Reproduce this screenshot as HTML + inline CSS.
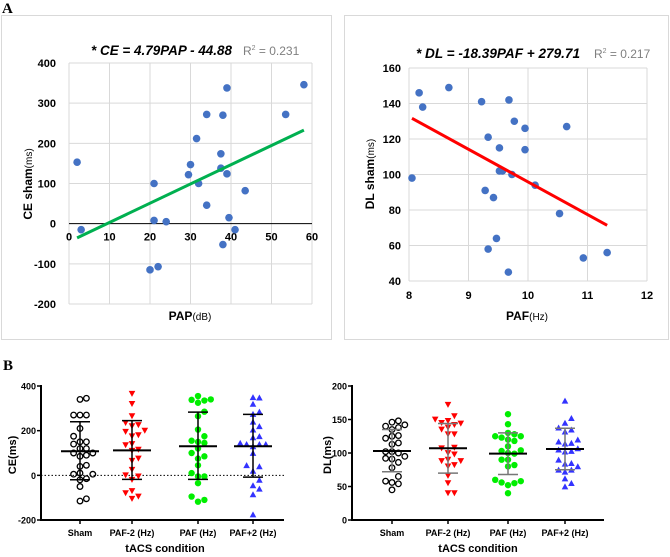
<!DOCTYPE html>
<html><head><meta charset="utf-8">
<style>
html,body{margin:0;padding:0;background:#fff;}
svg{display:block;font-family:"Liberation Sans",Arial,sans-serif;}
</style></head>
<body>
<svg id="fig" width="670" height="557" viewBox="0 0 670 557">
  <text x="2" y="13" font-family="Liberation Serif" font-weight="bold" font-size="15">A</text>
  <text x="3" y="370" font-family="Liberation Serif" font-weight="bold" font-size="15">B</text>
  <rect x="1.5" y="15.5" width="330" height="324" fill="none" stroke="#d9d9d9"/>
  <rect x="344.5" y="15.5" width="324" height="324" fill="none" stroke="#d9d9d9"/>
  <g id="a1"></g>
  <g id="a2"></g>
  <g id="b1"></g>
  <g id="b2"></g>
</svg>
<script>
// ---- data ----
const a1X = [2,3,20,21,21,22,24,29.5,30,31.5,32,34,34,37.5,37.5,38,38,39,39,39.5,41,43.5,53.5,58];
const a1Y = [153,-15,-115,8,100,-107,5,122,147,212,100,272,46,174,138,270,-52,124,338,15,-15,82,272,346];
const a1XTicks = [0,10,20,30,40,50,60];
const a1YTicks = [-200,-100,0,100,200,300,400];
const a1Fit = [4.79,-44.88];
const a2X = [8.05,8.17,8.23,8.67,9.22,9.28,9.33,9.33,9.42,9.47,9.52,9.52,9.57,9.68,9.67,9.73,9.77,9.95,9.95,10.12,10.53,10.65,10.93,11.33];
const a2Y = [98,146,138,149,141,91,121,58,87,64,115,102,102,142,45,100,130,126,114,94,78,127,53,56];
const a2XTicks = [8,9,10,11,12];
const a2YTicks = [40,60,80,100,120,140,160];
const a2Fit = [-18.39,279.71];
const categories = ["Sham","PAF-2 (Hz)","PAF (Hz)","PAF+2 (Hz)"];
const ceSham = [345,340,270,270,270,210,175,150,140,150,120,120,100,100,85,90,45,40,10,5,5,-15,-20,-50,-115,-105];
const cePafM2 = [365,320,265,235,225,220,200,195,175,180,140,135,110,115,75,65,25,0,-5,-20,-70,-80,-95,-105];
const cePaf = [355,340,338,335,325,285,265,205,175,155,150,145,120,100,85,75,45,10,-5,-5,-35,-95,-110,-118];
const cePafP2 = [350,348,320,285,275,240,220,205,175,170,145,140,140,140,130,100,45,40,20,-20,-45,-60,-85,-175];
const ceMean = [108,112,130,130];
const ceSdHi = [240,245,283,273];
const ceSdLo = [-20,-18,-18,-8];
const ceTicks = [-200,0,200,400];
const dlSham = [146,142,148,140,138,135,126,125,122,115,113,102,102,100,95,92,91,86,78,65,58,56,54,45];
const dlPafM2 = [172,155,150,148,145,144,142,138,135,128,128,108,107,100,98,90,88,88,82,80,66,55,40,40];
const dlPaf = [158,143,130,128,125,125,123,120,118,110,104,103,100,99,90,90,82,80,60,58,56,55,52,40];
const dlPafP2 = [178,152,145,138,135,132,120,117,115,114,107,105,103,102,90,85,84,80,75,75,72,62,55,50];
const dlMean = [103,107,99,106];
const dlSdHi = [135,144,130,137];
const dlSdLo = [72,70,68,75];
const dlTicks = [0,50,100,150,200];

const NS="http://www.w3.org/2000/svg";
function mk(parent,tag,attrs,name,text){
  const e=document.createElementNS(NS,tag);
  for(const k in attrs) e.setAttribute(k,attrs[k]);
  
  
  if(text!==undefined) e.textContent=text;
  parent.appendChild(e); return e;
}
function lin(d0,d1,r0,r1){return v=>r0+(v-d0)*(r1-r0)/(d1-d0);}

// ---- A1 ----
(function(){
  const g=document.getElementById('a1');
  const x=lin(0,60,69,312), y=lin(-200,400,304,63);
  a1XTicks.forEach(t=>{ if(t>0) mk(g,'line',{x1:x(t),x2:x(t),y1:y(400),y2:y(-200),stroke:'#d9d9d9'},'x-gridline'); });
  a1YTicks.forEach(t=>{ if(t!==0) mk(g,'line',{x1:x(0),x2:x(60),y1:y(t),y2:y(t),stroke:'#d9d9d9'},'y-gridline');
    mk(g,'text',{x:x(0)-13,y:y(t)+4,'text-anchor':'end','font-size':11,'font-weight':'bold'},'y-tick-label',t); });
  mk(g,'line',{x1:x(0),x2:x(0),y1:y(400),y2:y(-200),stroke:'#d9d9d9'},'y-axis-line');
  mk(g,'line',{x1:x(0),x2:x(60),y1:y(0),y2:y(0),stroke:'#000'},'zero-line');
  a1XTicks.forEach(t=>mk(g,'text',{x:x(t),y:y(0)+17,'text-anchor':'middle','font-size':11,'font-weight':'bold'},'x-tick-label',t));
  a1X.forEach((v,i)=>mk(g,'circle',{cx:x(v),cy:y(a1Y[i]),r:3.8,fill:'#4472c4'},'data-point'));
  const x0=a1X.reduce((a,b)=>Math.min(a,b)), x1=a1X.reduce((a,b)=>Math.max(a,b));
  mk(g,'line',{x1:x(x0),y1:y(a1Fit[0]*x0+a1Fit[1]),x2:x(x1),y2:y(a1Fit[0]*x1+a1Fit[1]),stroke:'#00b050','stroke-width':3},'trend-line');
  mk(g,'text',{x:91,y:55,'font-size':14,'font-weight':'bold','font-style':'italic',textLength:141,lengthAdjust:'spacingAndGlyphs'},'chart-title','* CE = 4.79PAP - 44.88');
  const r=mk(g,'text',{x:243,y:55,'font-size':12,fill:'#7f7f7f'},'r-squared','R');
  const s=document.createElementNS(NS,'tspan');s.setAttribute('dy','-5');s.setAttribute('font-size','7');s.textContent='2';r.appendChild(s);
  const s2=document.createElementNS(NS,'tspan');s2.setAttribute('dy','5');s2.textContent=' = 0.231';r.appendChild(s2);
  const xl=mk(g,'text',{x:190,y:320,'text-anchor':'middle','font-size':12,'font-weight':'bold'},'x-axis-title','PAP');
  const t1=document.createElementNS(NS,'tspan');t1.setAttribute('font-weight','normal');t1.setAttribute('font-size','10');t1.textContent='(dB)';xl.appendChild(t1);
  const yl=mk(g,'text',{transform:'translate(32,184) rotate(-90)','text-anchor':'middle','font-size':12,'font-weight':'bold'},'y-axis-title','CE sham');
  const t2=document.createElementNS(NS,'tspan');t2.setAttribute('font-weight','normal');t2.setAttribute('font-size','10');t2.textContent='(ms)';yl.appendChild(t2);
})();

// ---- A2 ----
(function(){
  const g=document.getElementById('a2');
  const x=lin(8,12,409,647), y=lin(40,160,281,68);
  a2XTicks.forEach(t=>{ mk(g,'line',{x1:x(t),x2:x(t),y1:y(160),y2:y(40),stroke:'#d9d9d9'},'x-gridline');
    mk(g,'text',{x:x(t),y:y(40)+18,'text-anchor':'middle','font-size':11,'font-weight':'bold'},'x-tick-label',t); });
  a2YTicks.forEach(t=>{ mk(g,'line',{x1:x(8),x2:x(12),y1:y(t),y2:y(t),stroke:'#d9d9d9'},'y-gridline');
    mk(g,'text',{x:x(8)-8,y:y(t)+4,'text-anchor':'end','font-size':11,'font-weight':'bold'},'y-tick-label',t); });
  a2X.forEach((v,i)=>mk(g,'circle',{cx:x(v),cy:y(a2Y[i]),r:3.8,fill:'#4472c4'},'data-point'));
  const x0=a2X.reduce((a,b)=>Math.min(a,b)), x1=a2X.reduce((a,b)=>Math.max(a,b));
  mk(g,'line',{x1:x(x0),y1:y(a2Fit[0]*x0+a2Fit[1]),x2:x(x1),y2:y(a2Fit[0]*x1+a2Fit[1]),stroke:'#ff0000','stroke-width':3},'trend-line');
  mk(g,'text',{x:416,y:58,'font-size':14,'font-weight':'bold','font-style':'italic',textLength:164,lengthAdjust:'spacingAndGlyphs'},'chart-title','* DL = -18.39PAF + 279.71');
  const r=mk(g,'text',{x:594,y:58,'font-size':12,fill:'#7f7f7f'},'r-squared','R');
  const s=document.createElementNS(NS,'tspan');s.setAttribute('dy','-5');s.setAttribute('font-size','7');s.textContent='2';r.appendChild(s);
  const s2=document.createElementNS(NS,'tspan');s2.setAttribute('dy','5');s2.textContent=' = 0.217';r.appendChild(s2);
  const xl=mk(g,'text',{x:527,y:320,'text-anchor':'middle','font-size':12,'font-weight':'bold'},'x-axis-title','PAF');
  const t1=document.createElementNS(NS,'tspan');t1.setAttribute('font-weight','normal');t1.setAttribute('font-size','10');t1.textContent='(Hz)';xl.appendChild(t1);
  const yl=mk(g,'text',{transform:'translate(374,174) rotate(-90)','text-anchor':'middle','font-size':12,'font-weight':'bold'},'y-axis-title','DL sham');
  const t2=document.createElementNS(NS,'tspan');t2.setAttribute('font-weight','normal');t2.setAttribute('font-size','10');t2.textContent='(ms)';yl.appendChild(t2);
})();

// ---- B panels ----
function swarm(vals,ypos,step){
  const placed=[];const off=new Array(vals.length).fill(0);
  vals.map((v,i)=>i).sort((a,b)=>ypos(vals[b])-ypos(vals[a])).forEach(i=>{
    const yy=ypos(vals[i]);
    for(let k=0;k<12;k++){
      const o=(k%2?1:-1)*Math.ceil(k/2)*step;
      if(placed.every(p=>Math.hypot(p[0]-o,p[1]-yy)>=step)){off[i]=o;placed.push([o,yy]);break;}
    }
  });
  return off;
}
function marker(g,kind,cx,cy,color){
  if(kind==='circle-open') mk(g,'circle',{cx:cx,cy:cy,r:2.8,fill:'none',stroke:'#000','stroke-width':1.3},'data-point');
  else if(kind==='circle') mk(g,'circle',{cx:cx,cy:cy,r:3.2,fill:color},'data-point');
  else if(kind==='down') mk(g,'polygon',{points:`${cx-3.3},${cy-2.9} ${cx+3.3},${cy-2.9} ${cx},${cy+3.1}`,fill:color},'data-point');
  else mk(g,'polygon',{points:`${cx-3.3},${cy+2.9} ${cx+3.3},${cy+2.9} ${cx},${cy-3.1}`,fill:color},'data-point');
}
function dotPlot(id,cfg){
  const g=document.getElementById(id);
  const y=lin(cfg.ymin,cfg.ymax,cfg.y0,cfg.y1);
  mk(g,'line',{x1:cfg.ax,x2:cfg.ax,y1:y(cfg.ymax)-1,y2:y(cfg.ymin)+1,stroke:'#000','stroke-width':2},'y-axis-line');
  mk(g,'line',{x1:cfg.ax-1,x2:cfg.axEnd,y1:y(cfg.ymin),y2:y(cfg.ymin),stroke:'#000','stroke-width':2},'x-axis-line');
  cfg.ticks.forEach(t=>{mk(g,'line',{x1:cfg.ax-4,x2:cfg.ax,y1:y(t),y2:y(t),stroke:'#000','stroke-width':1.5},'y-tick');
    mk(g,'text',{x:cfg.ax-5,y:y(t)+3.5,'text-anchor':'end','font-size':9,'font-weight':'bold'},'y-tick-label',t);});
  if(cfg.dashZero) mk(g,'line',{x1:cfg.ax,x2:cfg.axEnd,y1:y(0),y2:y(0),stroke:'#000','stroke-dasharray':'1.5,2'},'zero-reference-line');
  const kinds=['circle-open','down','circle','up'], cols=['#000','#ff0000','#00ee00','#3333ff'];
  cfg.series.forEach((vals,i)=>{
    const cx=cfg.cx[i];
    mk(g,'line',{x1:cx,x2:cx,y1:y(cfg.ymin),y2:y(cfg.ymin)+4,stroke:'#000','stroke-width':1.5},'x-tick');
    mk(g,'text',{x:cx,y:y(cfg.ymin)+16,'text-anchor':'middle','font-size':9,'font-weight':'bold'},'x-tick-label',categories[i]);
    const off=swarm(vals,y,6.4);
    vals.forEach((v,j)=>marker(g,kinds[i],cx+off[j],y(v),cols[i]));
    const ec=cfg.errColor;
    mk(g,'line',{x1:cx,x2:cx,y1:y(cfg.hi[i]),y2:y(cfg.lo[i]),stroke:ec,'stroke-width':1.5},'sd-bar');
    mk(g,'line',{x1:cx-10,x2:cx+10,y1:y(cfg.hi[i]),y2:y(cfg.hi[i]),stroke:ec,'stroke-width':1.5},'sd-cap-upper');
    mk(g,'line',{x1:cx-10,x2:cx+10,y1:y(cfg.lo[i]),y2:y(cfg.lo[i]),stroke:ec,'stroke-width':1.5},'sd-cap-lower');
    mk(g,'line',{x1:cx-19,x2:cx+19,y1:y(cfg.mean[i]),y2:y(cfg.mean[i]),stroke:'#000','stroke-width':2},'mean-line');
  });
  mk(g,'text',{x:cfg.xlx,y:552,'text-anchor':'middle','font-size':11,'font-weight':'bold'},'x-axis-title','tACS condition');
  mk(g,'text',{transform:`translate(${cfg.ylx},${cfg.yly}) rotate(-90)`,'text-anchor':'middle','font-size':11,'font-weight':'bold'},'y-axis-title',cfg.ylabel);
}
dotPlot('b1',{ymin:-200,ymax:400,y0:520,y1:386,ax:41,axEnd:284,ticks:ceTicks,dashZero:true,
  series:[ceSham,cePafM2,cePaf,cePafP2],cx:[80,132,198,253],mean:ceMean,hi:ceSdHi,lo:ceSdLo,errColor:'#000',
  xlx:165,ylx:16,yly:455,ylabel:'CE(ms)'});
dotPlot('b2',{ymin:0,ymax:200,y0:520,y1:386,ax:352,axEnd:604,ticks:dlTicks,dashZero:false,
  series:[dlSham,dlPafM2,dlPaf,dlPafP2],cx:[392,448,508,565],mean:dlMean,hi:dlSdHi,lo:dlSdLo,errColor:'#777',
  xlx:478,ylx:331,yly:455,ylabel:'DL(ms)'});
</script>
</body></html>
